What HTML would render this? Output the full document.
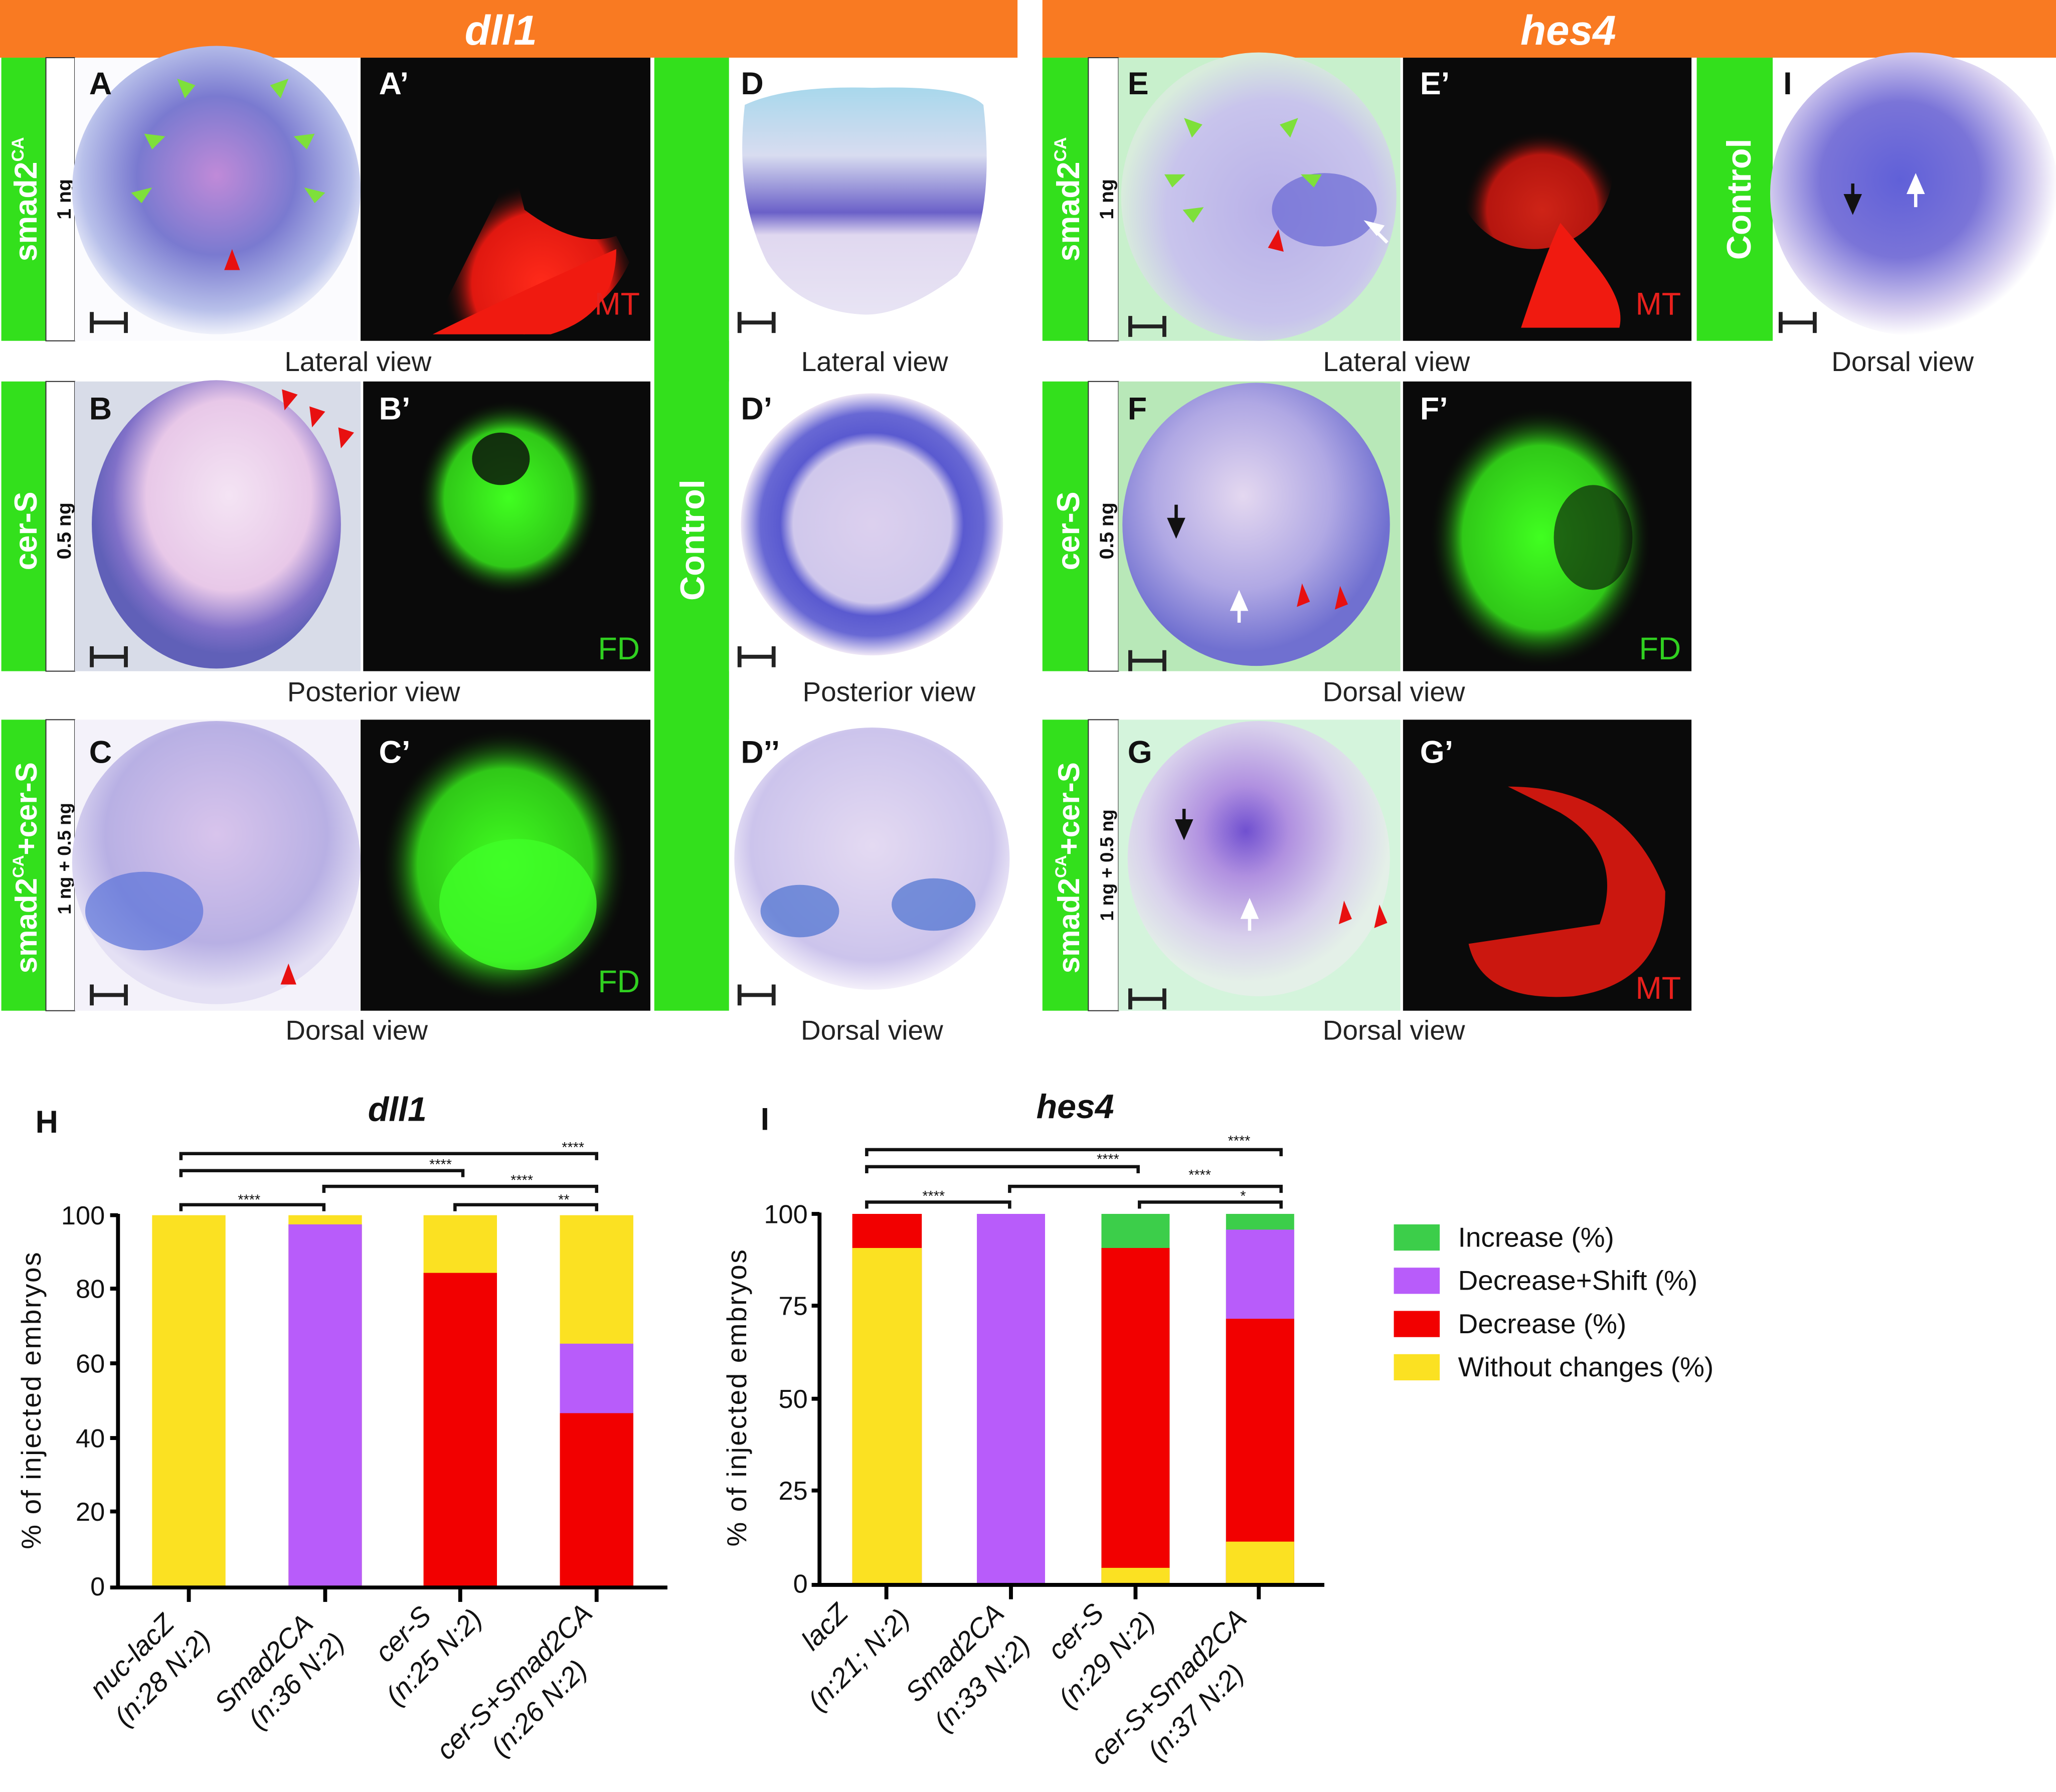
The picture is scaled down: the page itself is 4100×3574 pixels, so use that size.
<!DOCTYPE html>
<html><head><meta charset="utf-8"><style>
html,body{margin:0;padding:0;background:#fff;}
svg{display:block;}
text{font-family:"Liberation Sans",sans-serif;}
</style></head><body>
<svg width="4100" height="3574" viewBox="0 0 1568 1367" preserveAspectRatio="none" xmlns="http://www.w3.org/2000/svg">
<defs>
<radialGradient id="gA" cx="50%" cy="45%" r="55%"><stop offset="0" stop-color="#c08ad8"/><stop offset="0.5" stop-color="#7a7ad0"/><stop offset="0.85" stop-color="#b8c0ea"/><stop offset="1" stop-color="#eef0fa"/></radialGradient>
<radialGradient id="gB" cx="55%" cy="40%" r="55%"><stop offset="0" stop-color="#f4e4f4"/><stop offset="0.6" stop-color="#e8c8e8"/><stop offset="0.85" stop-color="#8070c8"/><stop offset="1" stop-color="#6060b8"/></radialGradient>
<radialGradient id="gC" cx="50%" cy="40%" r="55%"><stop offset="0" stop-color="#d8c4ec"/><stop offset="0.7" stop-color="#b8b0e4"/><stop offset="1" stop-color="#e4e0f4"/></radialGradient>
<linearGradient id="gD" x1="0" y1="0" x2="0" y2="1"><stop offset="0" stop-color="#a8d8ec"/><stop offset="0.3" stop-color="#d8dcf0"/><stop offset="0.55" stop-color="#6a60c8"/><stop offset="0.65" stop-color="#e0d8f0"/><stop offset="1" stop-color="#e8e4f4"/></linearGradient>
<radialGradient id="gD2" cx="50%" cy="50%" r="50%"><stop offset="0" stop-color="#dcd0ee"/><stop offset="0.6" stop-color="#d0c8ec"/><stop offset="0.7" stop-color="#5a5ad0"/><stop offset="0.85" stop-color="#6868d4"/><stop offset="1" stop-color="#f0e8f6"/></radialGradient>
<radialGradient id="gD3" cx="50%" cy="45%" r="55%"><stop offset="0" stop-color="#e4daf2"/><stop offset="0.8" stop-color="#ccc4ec"/><stop offset="1" stop-color="#f4f0fa"/></radialGradient>
<radialGradient id="gE" cx="55%" cy="55%" r="55%"><stop offset="0" stop-color="#b8b0e8"/><stop offset="0.7" stop-color="#c8c4ec"/><stop offset="1" stop-color="#d8ecdc"/></radialGradient>
<radialGradient id="gF" cx="45%" cy="40%" r="55%"><stop offset="0" stop-color="#e4d8f0"/><stop offset="0.6" stop-color="#b0a8e4"/><stop offset="1" stop-color="#7070d0"/></radialGradient>
<radialGradient id="gG" cx="45%" cy="40%" r="55%"><stop offset="0" stop-color="#7050d0"/><stop offset="0.3" stop-color="#b090e0"/><stop offset="0.7" stop-color="#d8d0ec"/><stop offset="1" stop-color="#e4f0e8"/></radialGradient>
<radialGradient id="gI" cx="45%" cy="45%" r="55%"><stop offset="0" stop-color="#6060d8"/><stop offset="0.5" stop-color="#7a74d8"/><stop offset="0.85" stop-color="#d8d0f0"/><stop offset="1" stop-color="#fff"/></radialGradient>
<radialGradient id="rd" cx="55%" cy="75%" r="50%"><stop offset="0" stop-color="#ff2a1a"/><stop offset="0.7" stop-color="#e01810"/><stop offset="1" stop-color="#0a0a0a" stop-opacity="0"/></radialGradient>
<radialGradient id="gr" cx="50%" cy="50%" r="50%"><stop offset="0" stop-color="#40ff20"/><stop offset="0.7" stop-color="#30c818"/><stop offset="1" stop-color="#0a0a0a" stop-opacity="0"/></radialGradient>
</defs>

<rect x="0" y="0" width="776" height="44" fill="#f97a22"/>
<rect x="795" y="0" width="773" height="44" fill="#f97a22"/>
<text x="382" y="34" font-size="32" font-weight="bold" font-style="italic" fill="#fff" text-anchor="middle">dll1</text>
<text x="1196" y="34" font-size="32" font-weight="bold" font-style="italic" fill="#fff" text-anchor="middle">hes4</text>

<g>
<rect x="1" y="44" width="34" height="216" fill="#33e01c"/><rect x="35" y="44" width="22" height="216" fill="#fff" stroke="#333" stroke-width="0.8"/>
<text transform="translate(28,152) rotate(-90)" font-size="24" font-weight="bold" fill="#fff" text-anchor="middle">smad2<tspan font-size="13" dy="-10">CA</tspan></text>
<text transform="translate(54,152) rotate(-90)" font-size="15" font-weight="bold" fill="#111" text-anchor="middle">1 ng</text>
<rect x="1" y="291" width="34" height="221" fill="#33e01c"/><rect x="35" y="291" width="22" height="221" fill="#fff" stroke="#333" stroke-width="0.8"/>
<text transform="translate(28,405) rotate(-90)" font-size="24" font-weight="bold" fill="#fff" text-anchor="middle">cer-S</text>
<text transform="translate(54,405) rotate(-90)" font-size="15" font-weight="bold" fill="#111" text-anchor="middle">0.5 ng</text>
<rect x="1" y="549" width="34" height="222" fill="#33e01c"/><rect x="35" y="549" width="22" height="222" fill="#fff" stroke="#333" stroke-width="0.8"/>
<text transform="translate(28,662) rotate(-90)" font-size="23" font-weight="bold" fill="#fff" text-anchor="middle">smad2<tspan font-size="12" dy="-10">CA</tspan><tspan dy="10">+cer-S</tspan></text>
<text transform="translate(54,655) rotate(-90)" font-size="14" font-weight="bold" fill="#111" text-anchor="middle">1 ng + 0.5 ng</text>
</g>

<rect x="57" y="44" width="216" height="216" fill="#fbfbfe"/>
<ellipse cx="165" cy="145" rx="110" ry="110" fill="url(#gA)"/>
<rect x="275" y="44" width="221" height="216" fill="#0a0a0a"/>
<path d="M330,250 Q360,190 380,150 L385,100 L400,160 Q440,190 470,180 L480,200 Q460,245 400,255 Z" fill="url(#rd)"/>
<path d="M330,255 Q380,230 470,190 Q470,240 420,255 Z" fill="#f01a10"/>
<text x="488" y="240" font-size="24" fill="#e8201c" text-anchor="end">MT</text>
<rect x="57" y="291" width="218" height="221" fill="#d8dce8"/>
<ellipse cx="165" cy="400" rx="95" ry="110" fill="url(#gB)"/>
<rect x="277" y="291" width="219" height="221" fill="#0a0a0a"/>
<ellipse cx="388" cy="380" rx="70" ry="75" fill="url(#gr)"/>
<ellipse cx="382" cy="350" rx="22" ry="20" fill="#0a0a0a" opacity="0.8"/>
<text x="488" y="503" font-size="24" fill="#30d020" text-anchor="end">FD</text>
<rect x="57" y="549" width="217" height="222" fill="#f4f2fa"/>
<ellipse cx="165" cy="658" rx="110" ry="108" fill="url(#gC)"/>
<ellipse cx="110" cy="695" rx="45" ry="30" fill="#5a72d8" opacity="0.7"/>
<rect x="275" y="549" width="221" height="222" fill="#0a0a0a"/>
<ellipse cx="385" cy="660" rx="95" ry="105" fill="url(#gr)"/>
<ellipse cx="395" cy="690" rx="60" ry="50" fill="#40ff28" opacity="0.8"/>
<text x="488" y="757" font-size="24" fill="#30d020" text-anchor="end">FD</text>

<rect x="499" y="44" width="57" height="727" fill="#33e01c"/>
<text transform="translate(537,412) rotate(-90)" font-size="26" font-weight="bold" fill="#fff" text-anchor="middle">Control</text>
<rect x="556" y="44" width="220" height="216" fill="#fff"/>
<path d="M568,80 Q600,65 665,67 Q735,65 750,80 Q760,170 730,210 Q690,240 660,240 Q610,238 585,200 Q560,150 568,80 Z" fill="url(#gD)"/>
<rect x="556" y="291" width="220" height="221" fill="#fff"/>
<ellipse cx="665" cy="400" rx="100" ry="100" fill="url(#gD2)"/>
<rect x="556" y="549" width="220" height="222" fill="#fff"/>
<ellipse cx="665" cy="655" rx="105" ry="100" fill="url(#gD3)"/>
<ellipse cx="610" cy="695" rx="30" ry="20" fill="#4a70d0" opacity="0.7"/>
<ellipse cx="712" cy="690" rx="32" ry="20" fill="#4a70d0" opacity="0.7"/>

<g font-size="21" fill="#222" text-anchor="middle">
<text x="273" y="283">Lateral view</text><text x="667" y="283">Lateral view</text>
<text x="285" y="535">Posterior view</text><text x="678" y="535">Posterior view</text>
<text x="272" y="793">Dorsal view</text><text x="665" y="793">Dorsal view</text>
<text x="1065" y="283">Lateral view</text><text x="1451" y="283">Dorsal view</text>
<text x="1063" y="535">Dorsal view</text><text x="1063" y="793">Dorsal view</text>
</g>

<rect x="795" y="44" width="35" height="216" fill="#33e01c"/><rect x="830" y="44" width="23" height="216" fill="#fff" stroke="#333" stroke-width="0.8"/>
<text transform="translate(823,152) rotate(-90)" font-size="24" font-weight="bold" fill="#fff" text-anchor="middle">smad2<tspan font-size="13" dy="-10">CA</tspan></text>
<text transform="translate(849,152) rotate(-90)" font-size="15" font-weight="bold" fill="#111" text-anchor="middle">1 ng</text>
<rect x="795" y="291" width="35" height="221" fill="#33e01c"/><rect x="830" y="291" width="23" height="221" fill="#fff" stroke="#333" stroke-width="0.8"/>
<text transform="translate(823,405) rotate(-90)" font-size="24" font-weight="bold" fill="#fff" text-anchor="middle">cer-S</text>
<text transform="translate(849,405) rotate(-90)" font-size="15" font-weight="bold" fill="#111" text-anchor="middle">0.5 ng</text>
<rect x="795" y="549" width="35" height="222" fill="#33e01c"/><rect x="830" y="549" width="23" height="222" fill="#fff" stroke="#333" stroke-width="0.8"/>
<text transform="translate(823,662) rotate(-90)" font-size="23" font-weight="bold" fill="#fff" text-anchor="middle">smad2<tspan font-size="12" dy="-10">CA</tspan><tspan dy="10">+cer-S</tspan></text>
<text transform="translate(849,660) rotate(-90)" font-size="14" font-weight="bold" fill="#111" text-anchor="middle">1 ng + 0.5 ng</text>

<rect x="853" y="44" width="215" height="216" fill="#c8f0cc"/>
<ellipse cx="960" cy="150" rx="105" ry="110" fill="url(#gE)"/>
<ellipse cx="1010" cy="160" rx="40" ry="28" fill="#5a5ad0" opacity="0.6"/>
<rect x="1070" y="44" width="220" height="216" fill="#0a0a0a"/>
<ellipse cx="1170" cy="130" rx="60" ry="60" fill="url(#rd)" opacity="0.8"/>
<path d="M1160,250 Q1180,190 1190,170 L1215,200 Q1240,230 1235,250 Z" fill="#f01a10"/>
<text x="1282" y="240" font-size="24" fill="#e8201c" text-anchor="end">MT</text>
<rect x="1294" y="44" width="58" height="216" fill="#33e01c"/>
<text transform="translate(1335,152) rotate(-90)" font-size="26" font-weight="bold" fill="#fff" text-anchor="middle">Control</text>
<rect x="1352" y="44" width="216" height="216" fill="#fff"/>
<ellipse cx="1460" cy="148" rx="110" ry="108" fill="url(#gI)"/>
<rect x="853" y="291" width="215" height="221" fill="#b8e8b8"/>
<ellipse cx="958" cy="400" rx="102" ry="108" fill="url(#gF)"/>
<rect x="1070" y="291" width="220" height="221" fill="#0a0a0a"/>
<ellipse cx="1175" cy="410" rx="85" ry="100" fill="url(#gr)"/>
<ellipse cx="1215" cy="410" rx="30" ry="40" fill="#0a0a0a" opacity="0.6"/>
<text x="1282" y="503" font-size="24" fill="#30d020" text-anchor="end">FD</text>
<rect x="853" y="549" width="215" height="222" fill="#d4f4dc"/>
<ellipse cx="960" cy="655" rx="100" ry="105" fill="url(#gG)"/>
<rect x="1070" y="549" width="220" height="222" fill="#0a0a0a"/>
<path d="M1150,600 Q1240,600 1270,680 Q1270,750 1200,760 Q1130,765 1120,720 L1220,705 Q1240,650 1190,620 Z" fill="#e01810" opacity="0.9"/>
<text x="1282" y="762" font-size="24" fill="#e8201c" text-anchor="end">MT</text>

<g font-size="24" font-weight="bold">
<text x="68" y="72" fill="#111">A</text><text x="289" y="72" fill="#fff">A’</text>
<text x="68" y="320" fill="#111">B</text><text x="289" y="320" fill="#fff">B’</text>
<text x="68" y="582" fill="#111">C</text><text x="289" y="582" fill="#fff">C’</text>
<text x="565" y="72" fill="#111">D</text><text x="565" y="320" fill="#111">D’</text><text x="565" y="582" fill="#111">D’’</text>
<text x="860" y="72" fill="#111">E</text><text x="1083" y="72" fill="#fff">E’</text>
<text x="860" y="320" fill="#111">F</text><text x="1083" y="320" fill="#fff">F’</text>
<text x="860" y="582" fill="#111">G</text><text x="1083" y="582" fill="#fff">G’</text>
<text x="1360" y="72" fill="#111">I</text>
</g>

<g stroke="#222" stroke-width="3" fill="none">
<path d="M70,238v16M70,246h26M96,238v16"/>
<path d="M70,493v16M70,501h26M96,493v16"/>
<path d="M70,751v16M70,759h26M96,751v16"/>
<path d="M564,238v16M564,246h26M590,238v16"/>
<path d="M564,493v16M564,501h26M590,493v16"/>
<path d="M564,751v16M564,759h26M590,751v16"/>
<path d="M862,241v16M862,249h26M888,241v16"/>
<path d="M862,496v16M862,504h26M888,496v16"/>
<path d="M862,754v16M862,762h26M888,754v16"/>
<path d="M1358,238v16M1358,246h26M1384,238v16"/>
</g>

<g fill="#7ee03a">
<path d="M135,60l14,5l-8,10z"/><path d="M220,60l-14,5l8,10z"/><path d="M110,102l16,2l-10,10z"/><path d="M240,102l-16,2l10,10z"/><path d="M100,147l16,-4l-8,12z"/><path d="M248,147l-16,-4l8,12z"/>
<path d="M903,90l14,5l-8,10z"/><path d="M990,90l-14,5l8,10z"/><path d="M888,133l16,0l-10,10z"/><path d="M1008,133l-16,0l10,10z"/><path d="M902,160l16,-2l-8,12z"/>
</g>
<g fill="#e81010">
<path d="M177,190l-6,16h12z"/>
<path d="M215,297l12,4l-10,12z"/><path d="M236,310l12,4l-10,12z"/><path d="M258,326l12,4l-10,12z"/>
<path d="M220,735l-6,16h12z"/>
<path d="M975,175l-8,14l12,3z"/>
<path d="M993,445l-4,18l10,-4z"/><path d="M1022,447l-4,18l10,-4z"/>
<path d="M1025,687l-4,18l10,-4z"/><path d="M1052,690l-4,18l10,-4z"/>
</g>
<g stroke="#111" stroke-width="2.5" fill="#111">
<path d="M897,385v20" /><path d="M890,395l7,16l7,-16z" stroke="none"/>
<path d="M903,617v18"/><path d="M896,625l7,16l7,-16z" stroke="none"/>
<path d="M1413,140v18"/><path d="M1406,148l7,16l7,-16z" stroke="none"/>
</g>
<g stroke="#fff" stroke-width="2.5" fill="#fff">
<path d="M945,475v-18"/><path d="M938,466l7,-16l7,16z" stroke="none"/>
<path d="M953,710v-18"/><path d="M946,701l7,-16l7,16z" stroke="none"/>
<path d="M1461,140v18"/><path d="M1454,148l7,-16l7,16z" stroke="none"/>
<path d="M1058,185l-14,-14"/><path d="M1040,168l16,4l-6,8z" stroke="none"/>
</g>

<!-- Chart H -->
<text x="27" y="864" font-size="24" font-weight="bold" fill="#111">H</text>
<text x="303" y="855" font-size="26" font-weight="bold" font-style="italic" fill="#111" text-anchor="middle">dll1</text>
<rect x="116" y="927" width="56" height="283" fill="#fbe122"/>
<rect x="220" y="927" width="56" height="283" fill="#fbe122"/>
<rect x="220" y="934" width="56" height="276" fill="#b85cfa"/>
<rect x="323" y="927" width="56" height="283" fill="#fbe122"/>
<rect x="323" y="971" width="56" height="239" fill="#f20000"/>
<rect x="427" y="927" width="56" height="283" fill="#fbe122"/>
<rect x="427" y="1025" width="56" height="185" fill="#b85cfa"/>
<rect x="427" y="1078" width="56" height="132" fill="#f20000"/>
<g stroke="#000" stroke-width="3" fill="none">
<path d="M90,926V1212"/><path d="M84,1211H509"/>
<path d="M84,927h6M84,983h6M84,1040h6M84,1097h6M84,1153h6"/>
<path d="M144,1212v10M248,1212v10M351,1212v10M455,1212v10"/>
</g>
<g font-size="20" fill="#111" text-anchor="end">
<text x="80" y="934">100</text><text x="80" y="990">80</text><text x="80" y="1047">60</text><text x="80" y="1104">40</text><text x="80" y="1160">20</text><text x="80" y="1217">0</text>
</g>
<text transform="translate(31,1068) rotate(-90)" font-size="21" fill="#111" text-anchor="middle" letter-spacing="1">% of injected embryos</text>
<g stroke="#111" stroke-width="2.5" fill="none">
<path d="M138,924v-5h109v5"/><path d="M138,885v-5h317v5"/><path d="M138,898v-5h215v5"/><path d="M247,910v-5h208v5"/><path d="M347,924v-5h108v5"/>
</g>
<g font-size="11" fill="#111" text-anchor="middle">
<text x="190" y="919">****</text><text x="437" y="879">****</text><text x="336" y="892">****</text><text x="398" y="904">****</text><text x="430" y="919">**</text>
</g>
<g font-size="21" font-style="italic" fill="#111" text-anchor="end">
<text transform="translate(134,1240) rotate(-45)">nuc-lacZ</text><text transform="translate(162,1252) rotate(-45)">(n:28 N:2)</text>
<text transform="translate(240,1240) rotate(-45)">Smad2CA</text><text transform="translate(264,1254) rotate(-45)">(n:36 N:2)</text>
<text transform="translate(330,1234) rotate(-45)">cer-S</text><text transform="translate(369,1236) rotate(-45)">(n:25 N:2)</text>
<text transform="translate(453,1232) rotate(-45)">cer-S+Smad2CA</text><text transform="translate(449,1275) rotate(-45)">(n:26 N:2)</text>
</g>

<!-- Chart I -->
<text x="580" y="862" font-size="24" font-weight="bold" fill="#111">I</text>
<text x="820" y="853" font-size="26" font-weight="bold" font-style="italic" fill="#111" text-anchor="middle">hes4</text>
<rect x="650" y="926" width="53" height="282" fill="#f20000"/>
<rect x="650" y="952" width="53" height="256" fill="#fbe122"/>
<rect x="745" y="926" width="52" height="282" fill="#b85cfa"/>
<rect x="840" y="926" width="52" height="282" fill="#3cce4a"/>
<rect x="840" y="952" width="52" height="256" fill="#f20000"/>
<rect x="840" y="1196" width="52" height="12" fill="#fbe122"/>
<rect x="935" y="926" width="52" height="282" fill="#3cce4a"/>
<rect x="935" y="938" width="52" height="270" fill="#b85cfa"/>
<rect x="935" y="1006" width="52" height="202" fill="#f20000"/>
<rect x="935" y="1176" width="52" height="32" fill="#fbe122"/>
<g stroke="#000" stroke-width="3" fill="none">
<path d="M625,925V1210"/><path d="M619,1209H1010"/>
<path d="M619,926h6M619,996h6M619,1067h6M619,1137h6"/>
<path d="M676,1210v10M771,1210v10M866,1210v10M960,1210v10"/>
</g>
<g font-size="20" fill="#111" text-anchor="end">
<text x="616" y="933">100</text><text x="616" y="1003">75</text><text x="616" y="1074">50</text><text x="616" y="1144">25</text><text x="616" y="1215">0</text>
</g>
<text transform="translate(569,1066) rotate(-90)" font-size="21" fill="#111" text-anchor="middle" letter-spacing="1">% of injected embryos</text>
<g stroke="#111" stroke-width="2.5" fill="none">
<path d="M661,922v-5h109v5"/><path d="M661,882v-5h316v5"/><path d="M661,895v-5h207v5"/><path d="M770,910v-5h207v5"/><path d="M869,922v-5h108v5"/>
</g>
<g font-size="11" fill="#111" text-anchor="middle">
<text x="712" y="916">****</text><text x="945" y="874">****</text><text x="845" y="888">****</text><text x="915" y="900">****</text><text x="948" y="916">*</text>
</g>
<g font-size="21" font-style="italic" fill="#111" text-anchor="end">
<text transform="translate(648,1232) rotate(-45)">lacZ</text><text transform="translate(695,1236) rotate(-45)">(n:21; N:2)</text>
<text transform="translate(767,1232) rotate(-45)">Smad2CA</text><text transform="translate(787,1256) rotate(-45)">(n:33 N:2)</text>
<text transform="translate(843,1232) rotate(-45)">cer-S</text><text transform="translate(882,1238) rotate(-45)">(n:29 N:2)</text>
<text transform="translate(952,1236) rotate(-45)">cer-S+Smad2CA</text><text transform="translate(950,1278) rotate(-45)">(n:37 N:2)</text>
</g>

<rect x="1063" y="934" width="35" height="20" fill="#3cce4a"/>
<rect x="1063" y="967" width="35" height="20" fill="#b85cfa"/>
<rect x="1063" y="1000" width="35" height="20" fill="#f20000"/>
<rect x="1063" y="1033" width="35" height="20" fill="#fbe122"/>
<g font-size="21" fill="#111">
<text x="1112" y="951">Increase (%)</text>
<text x="1112" y="984">Decrease+Shift (%)</text>
<text x="1112" y="1017">Decrease (%)</text>
<text x="1112" y="1050">Without changes (%)</text>
</g>
</svg>
</body></html>
